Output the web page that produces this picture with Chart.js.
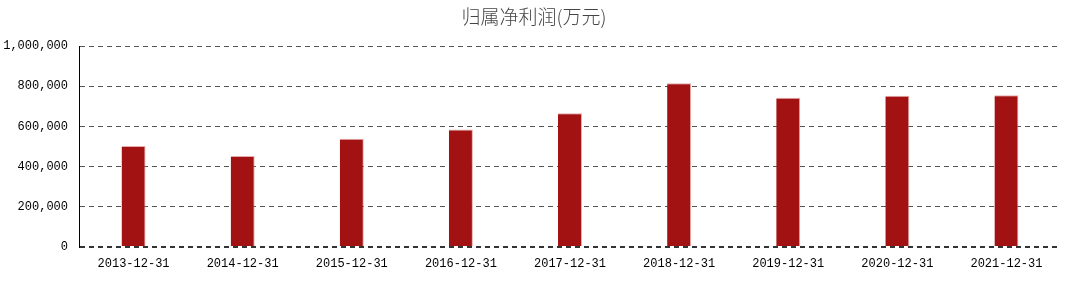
<!DOCTYPE html>
<html><head><meta charset="utf-8">
<script src="https://cdn.jsdelivr.net/npm/chart.js@4/dist/chart.umd.min.js"></script>
<style>html,body{margin:0;padding:0;background:#fff}canvas{display:block}</style>
</head><body>
<canvas id="c" width="1076" height="291"></canvas>
<script>
const title = "归属净利润(万元)";
const categories = ["2013-12-31","2014-12-31","2015-12-31","2016-12-31","2017-12-31","2018-12-31","2019-12-31","2020-12-31","2021-12-31"];
const values = [502000, 453000, 539000, 585000, 665000, 815000, 742000, 752000, 755000];
const yTicks = [0, 200000, 400000, 600000, 800000, 1000000];

const titlePlugin = {
  id: 'titleText',
  afterDraw(chart) {
    const ctx = chart.ctx;
    ctx.save();
    ctx.font = '300 19px "Noto Sans CJK SC"';
    ctx.fillStyle = '#444';
    ctx.textAlign = 'center';
    ctx.textBaseline = 'middle';
    ctx.fillText(title, 534, 17);
    ctx.restore();
  }
};

new Chart(document.getElementById('c'), {
  type: 'bar',
  data: {
    labels: categories,
    datasets: [{
      data: values,
      backgroundColor: '#a31212',
      borderColor: 'rgba(225,150,150,0.8)',
      borderWidth: {top:1,left:0,right:1,bottom:0},
      barPercentage: 0.22,
      categoryPercentage: 1
    }]
  },
  options: {
    responsive: false,
    animation: false,
    layout: { padding: { top: 46, right: 15, left: 0, bottom: 0 } },
    plugins: { legend: { display: false }, tooltip: { enabled: false }, title: { display: false } },
    scales: {
      x: {
        grid: { display: false, drawTicks: false },
        border: { display: false },
        ticks: { color: '#000', font: { family: 'Liberation Mono', size: 12 }, padding: 10, maxRotation: 0 },
        afterFit(s) { s.height = 44; }
      },
      y: {
        min: 0, max: 1000000,
        afterBuildTicks(s) { s.ticks = yTicks.map(v => ({ value: v })); },
        grid: {
          drawTicks: false,
          color: ctx => ctx.tick && ctx.tick.value === 0 ? '#333' : '#555',
          lineWidth: ctx => ctx.tick && ctx.tick.value === 0 ? 2 : 1
        },
        border: { display: true, color: '#000', width: 1, dash: [5, 4] },
        ticks: {
          color: '#000', font: { family: 'Liberation Mono', size: 12 }, padding: 11,
          callback: v => v.toLocaleString('en-US')
        },
        afterFit(s) { s.width = 79; }
      }
    }
  },
  plugins: [titlePlugin]
});
</script>
</body></html>
